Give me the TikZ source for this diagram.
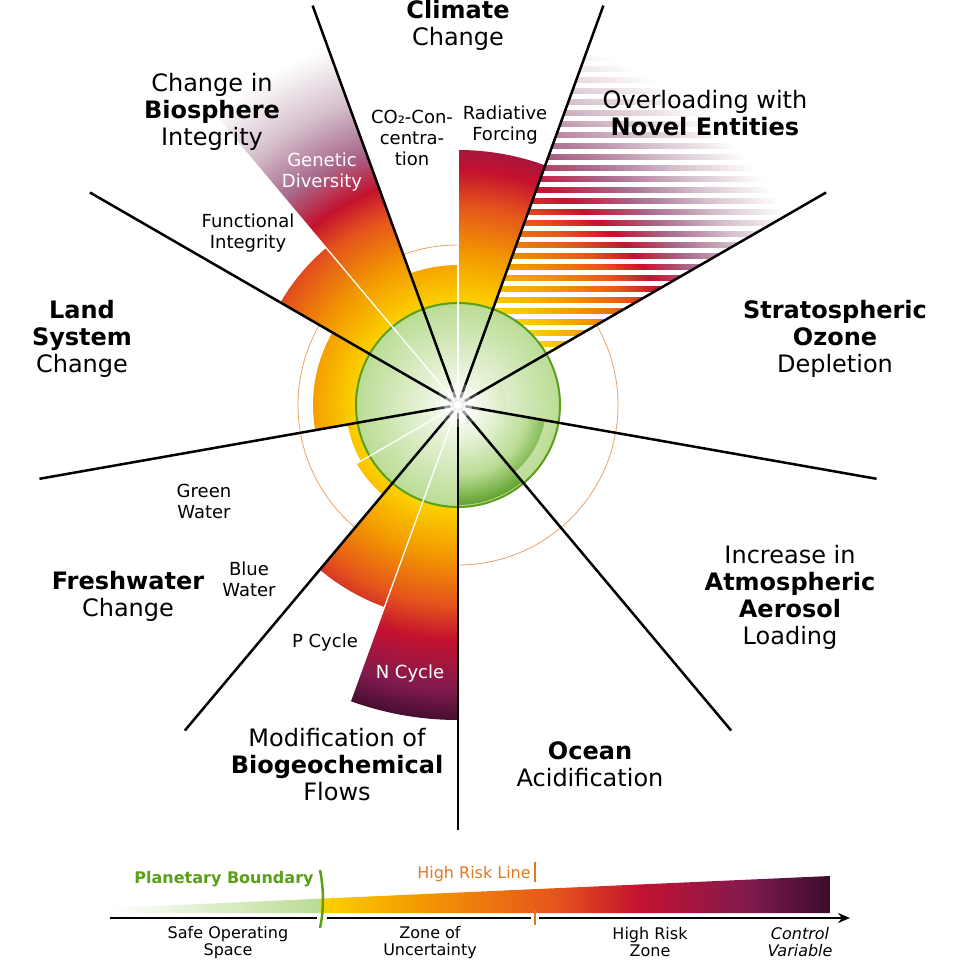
\documentclass[tikz,border=0pt]{standalone}
\usepackage{fontspec}
\setmainfont{DejaVu Sans}
\usetikzlibrary{arrows.meta}
\definecolor{gA}{HTML}{BADC94}
\definecolor{gL}{HTML}{E6F2D6}
\definecolor{gD}{HTML}{5A9E28}
\definecolor{yA}{HTML}{FCD200}
\definecolor{oA}{HTML}{F39A00}
\definecolor{oB}{HTML}{E4531C}
\definecolor{rA}{HTML}{C4122F}
\definecolor{pA}{HTML}{801A4E}
\definecolor{dA}{HTML}{3C0C2C}
\definecolor{mA}{HTML}{A8688A}
\definecolor{mB}{HTML}{D4BECB}
\definecolor{pbgreen}{HTML}{5A9E1A}
\definecolor{hrorange}{HTML}{E07A20}
\pgfdeclareradialshading{mainsh}{\pgfpoint{0bp}{0bp}}{color(0bp)=(white); color(2bp)=(gL); color(5.68bp)=(gA); color(5.8bp)=(yA); color(8.52bp)=(oA); color(11.36bp)=(oB); color(13.35bp)=(rA); color(16.19bp)=(pA); color(18.18bp)=(dA); color(50bp)=(dA)}
\pgfdeclareradialshading{fadesh}{\pgfpoint{0bp}{0bp}}{color(0bp)=(white); color(2bp)=(gL); color(5.68bp)=(gA); color(5.8bp)=(yA); color(8.52bp)=(oA); color(11.36bp)=(oB); color(13.1bp)=(rA); color(15.3bp)=(mA); color(18.2bp)=(mB); color(21.6bp)=(white); color(50bp)=(white)}
\pgfdeclareradialshading{greensh}{\pgfpoint{0bp}{0bp}}{color(0bp)=(white); color(2bp)=(gL); color(4bp)=(gA); color(5.8bp)=(gD); color(50bp)=(gD)}
\pgfdeclareradialshading{bgsh}{\pgfpoint{0bp}{0bp}}{color(0bp)=(white); color(2bp)=(gL); color(5.8bp)=(gA); color(50bp)=(gA)}
\pgfdeclarehorizontalshading{legsh}{100bp}{color(0bp)=(white); color(25bp)=(white); color(39.44bp)=(gA); color(39.72bp)=(yA); color(46.4bp)=(oA); color(56.1bp)=(oB); color(61.7bp)=(rA); color(69.3bp)=(pA); color(75bp)=(dA); color(100bp)=(dA)}
\newcommand\mysector[4]{\begin{scope}\clip (0,0) -- (#1:#3) arc[start angle=#1,end angle=#2,radius=#3] -- cycle; \shade[shading=#4] (0,0) circle (440);\end{scope}}
\tikzset{
 spoke/.style={line width=2.5pt,black},
 subspoke/.style={white,line width=1.3pt},
 big/.style={font=\fontsize{24}{27}\selectfont,align=center},
 small/.style={font=\fontsize{18}{21}\selectfont,align=center},
 leg/.style={font=\fontsize{16}{17}\selectfont,align=center}
}
\begin{document}
\begin{tikzpicture}[x=1pt,y=1pt]
\useasboundingbox (-458,-555) rectangle (502,405);
\draw[hrorange!70,line width=0.8pt] (0,0) circle (160);
\mysector{70}{90}{255}{mainsh}
\mysector{90}{110}{140}{mainsh}
\mysector{110}{130}{380}{fadesh}
\mysector{130}{150}{205}{mainsh}
\mysector{150}{190}{145}{mainsh}
\mysector{190}{210}{112}{mainsh}
\mysector{210}{230}{117}{mainsh}
\mysector{230}{250}{215}{mainsh}
\mysector{250}{270}{315}{mainsh}
\begin{scope}
\clip (0,0) -- (30:440) arc[start angle=30,end angle=70,radius=440] -- cycle;
\shade[shading=fadesh] (0,0) circle (440);
\foreach \y in {0,11,...,440} \draw[white,line width=5pt] (0,\y) -- (460,\y);
\end{scope}
\begin{scope}
\clip (0,0) circle (102);
\shade[shading=bgsh] (0,0) circle (440);
\end{scope}
\mysector{-10}{30}{48}{greensh}
\mysector{-50}{-10}{88}{greensh}
\mysector{-90}{-50}{100}{greensh}
\draw[pbgreen,line width=2pt] (0,0) circle (102);
\draw[subspoke] (0,0) -- (90:255);
\draw[subspoke] (0,0) -- (130:380);
\draw[subspoke] (0,0) -- (210:117);
\draw[subspoke] (0,0) -- (250:315);
\foreach \a in {-90,-50,-10,30,70,110,150,190,230} \draw[spoke] (0,0) -- (\a:425);
\foreach \r/\o in {22/0.25,14/0.45,8/0.8,4/1} \fill[white,opacity=\o] (0,0) circle (\r);
\node[big] (clim) at (0,380) {\textbf{Climate}\\Change};
\node[big] (bios) at (-246,293) {Change in\\\textbf{Biosphere}\\Integrity};
\node[big] (novel) at (247,291.5) {Overloading with\\\textbf{Novel Entities}};
\node[big] (ozone) at (377,66) {\textbf{Stratospheric}\\\textbf{Ozone}\\Depletion};
\node[big] (land) at (-376,66) {\textbf{Land}\\\textbf{System}\\Change};
\node[big] (aero) at (332,-192) {Increase in\\\textbf{Atmospheric}\\\textbf{Aerosol}\\Loading};
\node[big] (fresh) at (-330,-191.5) {\textbf{Freshwater}\\Change};
\node[big] (bgc) at (-121,-360) {Modification of\\\textbf{Biogeochemical}\\Flows};
\node[big] (ocean) at (132,-359.5) {\textbf{Ocean}\\Acidification};
\node[small] (co2) at (-46,267) {CO₂-Con-\\centra-\\tion};
\node[small] (rad) at (47,280) {Radiative\\Forcing};
\node[small,white] (gen) at (-136,232.5) {Genetic\\Diversity};
\node[small] (func) at (-210,171.5) {Functional\\Integrity};
\node[small] (gw) at (-254,-96.5) {Green\\Water};
\node[small] (bw) at (-209,-174.5) {Blue\\Water};
\node[small] (pc) at (-133,-238) {P Cycle};
\node[small,white] (nc) at (-48,-269) {N Cycle};
\begin{scope}
\clip (-348,-508) -- (372,-508) -- (372,-471) -- (-348,-503) -- cycle;
\shade[shading=legsh] (-348,-508) rectangle (372,-471);
\end{scope}
\coordinate (axs) at (-348,-513);
\coordinate (axe) at (392,-513);
\draw[line width=2.5pt,-{Stealth[length=12pt,width=10pt]}] (axs) -- (axe);
\fill[white] (-141,-511) rectangle (-131,-515);
\fill[white] (73,-511) rectangle (81,-515);
\draw[pbgreen,line width=2.5pt] (-138,-465) .. controls (-134,-485) and (-134,-505) .. (-138,-523);
\draw[hrorange,line width=1.2pt] (77,-457) -- (77,-477);
\draw[hrorange,line width=1.2pt] (77,-505) -- (77,-520);
\node[leg,text=pbgreen,font=\fontsize{16}{17}\selectfont\bfseries] (pb) at (-234,-474) {Planetary Boundary};
\node[leg,text=hrorange] (hrl) at (16,-469) {High Risk Line};
\node[leg] (sos) at (-230,-537.5) {Safe Operating\\Space};
\node[leg] (zou) at (-28,-537.5) {Zone of\\Uncertainty};
\node[leg] (hrz) at (192,-537.5) {High Risk\\Zone};
\node[leg,font=\fontsize{16}{17}\selectfont\itshape] (cv) at (342,-537.5) {Control\\Variable};
\end{tikzpicture}
\end{document}
